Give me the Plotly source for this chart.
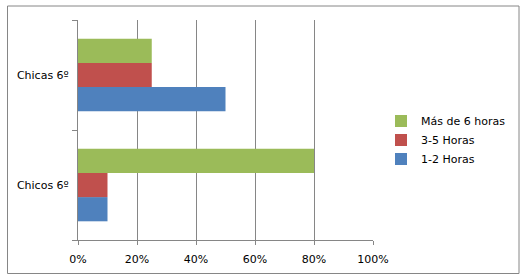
import plotly.graph_objects as go

categories = ["Chicos 6º", "Chicas 6º"]
series_names = ["1-2 Horas", "3-5 Horas", "Más de 6 horas"]
vals_1_2 = [0.10, 0.50]
vals_3_5 = [0.10, 0.25]
vals_mas6 = [0.80, 0.25]
colors = ["#4F81BD", "#C0504D", "#9BBB59"]
x_ticks = [0, 0.2, 0.4, 0.6, 0.8, 1.0]

fig = go.Figure()
for name, vals, col in zip(series_names, [vals_1_2, vals_3_5, vals_mas6], colors):
    fig.add_trace(go.Bar(y=categories, x=vals, name=name, orientation="h",
                         marker=dict(color=col, line=dict(width=0)),
                         legendgroup=name))

W, H = 527, 280
ml, mr, mt, mb = 78, 154, 20, 40
pw = W - ml - mr
ph = H - mt - mb

def px2paper_x(px):
    return (px - ml) / pw

def px2paper_y(py):
    return 1 - (py - mt) / ph

fig.update_layout(
    width=W, height=H,
    margin=dict(l=ml, r=mr, t=mt, b=mb),
    paper_bgcolor="white", plot_bgcolor="white",
    barmode="group", bargap=0.34, bargroupgap=0,
    font=dict(family="DejaVu Sans", size=11, color="#000000"),
    showlegend=True,
    legend=dict(traceorder="reversed", x=px2paper_x(381), y=px2paper_y(140),
                xanchor="left", yanchor="middle", tracegroupgap=6,
                font=dict(family="DejaVu Sans", size=11), bgcolor="rgba(0,0,0,0)"),
    xaxis=dict(range=[0, 1], tickvals=x_ticks, tickformat=".0%",
               showgrid=True, gridcolor="#868686", gridwidth=1,
               showline=True, linecolor="#868686", linewidth=1,
               ticks="outside", ticklen=4, tickcolor="#868686",
               ticklabelstandoff=5,
               zeroline=False, fixedrange=True),
    yaxis=dict(showgrid=False, showline=True, linecolor="#868686", linewidth=1,
               ticks="outside", ticklen=5, tickcolor="#868686",
               ticklabelstandoff=6,
               tickson="boundaries", zeroline=False, fixedrange=True,
               range=[-0.5, 1.5]),
    shapes=[dict(type="rect", xref="paper", yref="paper",
                 x0=px2paper_x(7.5), x1=px2paper_x(519), y0=px2paper_y(273.5), y1=px2paper_y(6),
                 line=dict(color="#868686", width=1), fillcolor="rgba(0,0,0,0)", layer="below")],
)

fig.write_html("out.html")
